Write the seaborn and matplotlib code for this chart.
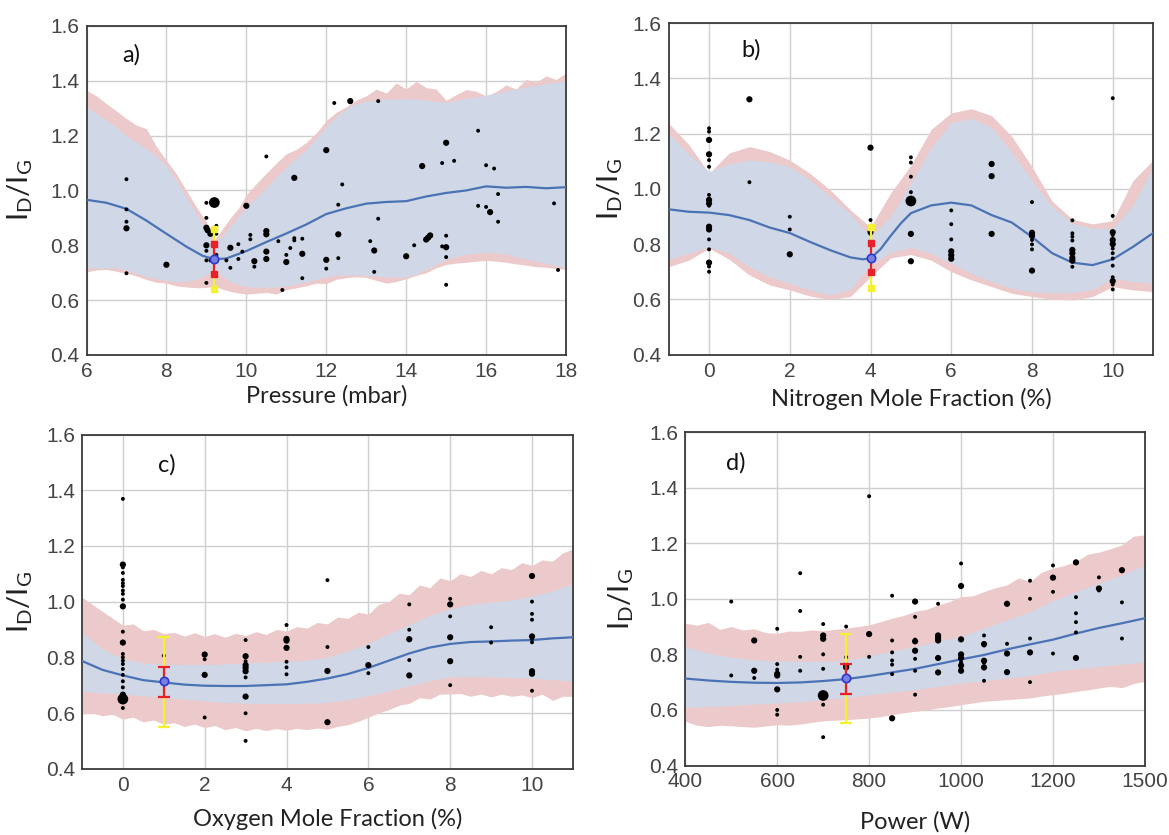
import numpy as np
import pandas as pd
import matplotlib
matplotlib.use("Agg")
import matplotlib.pyplot as plt
import seaborn as sns

# ---------------- Panel a: Pressure ----------------
a_line_x = [6, 6.5, 7, 7.5, 8, 8.5, 8.9, 9.2, 9.5, 10, 10.5, 11, 11.5, 12, 12.5, 13, 13.5, 14, 14.5, 15, 15.5, 16, 16.5, 17, 17.5, 18]
a_line_y = [0.966, 0.955, 0.933, 0.89, 0.842, 0.795, 0.762, 0.749, 0.752, 0.779, 0.812, 0.843, 0.876, 0.914, 0.935, 0.952, 0.958, 0.961, 0.978, 0.991, 1.0, 1.015, 1.01, 1.013, 1.008, 1.012]
a_band_x = [6, 6.25, 6.5, 6.75, 7, 7.25, 7.5, 7.75, 8, 8.25, 8.5, 8.75, 9, 9.2, 9.4, 9.6, 9.8, 10, 10.25, 10.5, 10.75, 11, 11.25, 11.5, 11.75,
            12, 12.25, 12.5, 12.75, 13, 13.25, 13.5, 13.75, 14, 14.25, 14.5, 14.75, 15, 15.25, 15.5, 15.75, 16, 16.25, 16.5, 16.75, 17, 17.25, 17.5, 17.75, 18]
a_pink_hi = [1.365, 1.345, 1.316, 1.29, 1.262, 1.238, 1.225, 1.16, 1.11, 1.06, 1.0, 0.94, 0.885, 0.818, 0.86, 0.9, 0.935, 0.985, 1.025, 1.063, 1.1, 1.134, 1.15, 1.175, 1.21,
             1.255, 1.285, 1.305, 1.33, 1.345, 1.37, 1.355, 1.392, 1.37, 1.398, 1.375, 1.37, 1.328, 1.35, 1.368, 1.362, 1.345, 1.36, 1.385, 1.37, 1.405, 1.395, 1.418, 1.405, 1.428]
a_blue_hi = [1.304, 1.28, 1.255, 1.23, 1.2, 1.175, 1.152, 1.125, 1.09, 1.035, 0.975, 0.915, 0.855, 0.80, 0.835, 0.87, 0.905, 0.94, 0.975, 1.01, 1.05, 1.085, 1.12, 1.15, 1.19,
             1.232, 1.27, 1.3, 1.316, 1.325, 1.331, 1.333, 1.334, 1.335, 1.333, 1.33, 1.325, 1.322, 1.328, 1.336, 1.34, 1.347, 1.355, 1.362, 1.37, 1.377, 1.383, 1.39, 1.395, 1.40]
a_blue_lo = [0.72, 0.716, 0.717, 0.718, 0.71, 0.698, 0.686, 0.678, 0.672, 0.668, 0.668, 0.676, 0.693, 0.712, 0.686, 0.668, 0.657, 0.649, 0.647, 0.647, 0.648, 0.651, 0.658, 0.666, 0.676,
             0.685, 0.69, 0.692, 0.692, 0.69, 0.688, 0.685, 0.684, 0.684, 0.695, 0.712, 0.73, 0.748, 0.76, 0.768, 0.772, 0.774, 0.772, 0.768, 0.758, 0.75, 0.742, 0.735, 0.725, 0.718]
a_pink_lo = [0.703, 0.71, 0.712, 0.705, 0.698, 0.688, 0.675, 0.665, 0.662, 0.652, 0.648, 0.645, 0.646, 0.652, 0.64, 0.632, 0.626, 0.622, 0.625, 0.628, 0.622, 0.638, 0.645, 0.652, 0.662,
             0.66, 0.676, 0.682, 0.685, 0.683, 0.672, 0.662, 0.668, 0.678, 0.69, 0.7, 0.718, 0.73, 0.735, 0.738, 0.742, 0.745, 0.742, 0.738, 0.732, 0.728, 0.722, 0.72, 0.715, 0.712]
a_pts_x = [7, 7, 7, 7, 7, 8, 9.2, 9, 9, 9, 9.03, 9.1, 9.25, 9.25, 9, 9, 9, 9.1, 9.25, 9.25, 9,
           9.6, 9.5, 9.6, 9.8, 9.8, 10, 9.9, 10.1, 10.1, 10.2, 10.2, 10.5, 10.5, 10.5, 10.5, 10.5, 10.8, 11, 11, 11.1, 11.2, 11.2, 11.2, 11.4, 11.4, 11.4, 12, 12, 12, 10.9,
           12.2, 12.6, 13.3, 12.4, 12.3, 12.3, 12.3, 13.1, 13.2, 13.3, 13.2, 14, 14.2, 14.4, 14.5, 14.55, 14.6, 14.9, 15, 15, 14.9, 15, 15, 15, 15.2,
           15.8, 15.8, 16, 16, 16.1, 16.2, 16.3, 16.3, 17.7, 17.8]
a_pts_y = [1.041, 0.931, 0.886, 0.862, 0.698, 0.729, 0.956, 0.955, 0.90, 0.864, 0.855, 0.842, 0.871, 0.842, 0.80, 0.78, 0.745, 0.745, 0.765, 0.742, 0.663,
           0.791, 0.745, 0.718, 0.804, 0.75, 0.944, 0.777, 0.838, 0.822, 0.742, 0.722, 1.124, 0.852, 0.84, 0.777, 0.75, 0.815, 0.765, 0.739, 0.79, 1.046, 0.826, 0.818, 0.824, 0.769, 0.68, 1.147, 0.747, 0.715, 0.637,
           1.319, 1.326, 1.326, 1.022, 0.948, 0.84, 0.753, 0.815, 0.781, 0.897, 0.703, 0.76, 0.80, 1.089, 0.821, 0.828, 0.836, 1.10, 1.174, 0.835, 0.796, 0.793, 0.757, 0.656, 1.108,
           1.218, 0.944, 1.092, 0.94, 0.921, 1.08, 0.987, 0.886, 0.953, 0.71]
a_pts_s = [1, 1, 1, 2, 1, 2, 3, 1, 1, 2, 2, 2, 1, 1, 2, 1, 1, 1, 1, 1, 1,
           2, 1, 1, 1, 1, 2, 1, 1, 1, 2, 1, 1, 2, 2, 2, 2, 1, 1, 2, 1, 2, 1, 1, 1, 2, 1, 2, 2, 1, 1,
           1, 2, 1, 1, 1, 2, 1, 1, 2, 1, 1, 2, 1, 2, 2, 2, 2, 1, 2, 1, 1, 2, 1, 1, 1,
           1, 1, 1, 1, 2, 1, 1, 1, 1, 1]
a_err = dict(x=9.2, c=0.75, r_lo=0.696, r_hi=0.803, y_lo=0.639, y_hi=0.858)

# ---------------- Panel b: Nitrogen ----------------
b_line_x = [-1, -0.5, 0, 0.5, 1, 1.5, 2, 2.5, 3, 3.5, 3.8, 4, 4.25, 4.5, 4.75, 5, 5.5, 6, 6.5, 7, 7.5, 8, 8.5, 9, 9.5, 10, 10.5, 11]
b_line_y = [0.926, 0.917, 0.914, 0.905, 0.887, 0.860, 0.840, 0.808, 0.778, 0.752, 0.745, 0.748, 0.782, 0.830, 0.875, 0.912, 0.940, 0.950, 0.940, 0.905, 0.878, 0.826, 0.767, 0.733, 0.724, 0.745, 0.790, 0.840]
b_band_x = [-1, -0.5, 0, 0.5, 1, 1.5, 2, 2.5, 3, 3.5, 4, 4.5, 5, 5.5, 6, 6.5, 7, 7.5, 8, 8.5, 9, 9.5, 10, 10.5, 11]
b_pink_hi = [1.237, 1.16, 1.056, 1.13, 1.153, 1.135, 1.104, 1.056, 0.996, 0.924, 0.861, 0.985, 1.085, 1.215, 1.275, 1.29, 1.265, 1.19, 1.08, 0.955, 0.89, 0.873, 0.885, 1.03, 1.104]
b_blue_hi = [1.20, 1.125, 1.062, 1.09, 1.104, 1.098, 1.08, 1.032, 0.972, 0.91, 0.827, 0.90, 1.02, 1.15, 1.24, 1.255, 1.222, 1.132, 1.03, 0.935, 0.875, 0.857, 0.857, 0.94, 1.08]
b_blue_lo = [0.745, 0.767, 0.79, 0.767, 0.718, 0.682, 0.658, 0.634, 0.616, 0.636, 0.724, 0.77, 0.788, 0.767, 0.73, 0.694, 0.664, 0.64, 0.628, 0.624, 0.624, 0.636, 0.676, 0.664, 0.658]
b_pink_lo = [0.718, 0.742, 0.785, 0.745, 0.688, 0.652, 0.634, 0.612, 0.60, 0.61, 0.682, 0.75, 0.762, 0.742, 0.70, 0.67, 0.646, 0.622, 0.61, 0.60, 0.598, 0.61, 0.646, 0.634, 0.628]
b_pts_x = [0] * 17 + [1, 1] + [2, 2, 2] + [4, 4, 4, 4] + [5] * 7 + [6] * 6 + [7] * 3 + [8] * 7 + [9] * 9 + [10] * 14
b_pts_y = [1.219, 1.207, 1.177, 1.125, 1.104, 1.08, 0.978, 0.96, 0.947, 0.939, 0.863, 0.853, 0.817, 0.781, 0.733, 0.719, 0.70,
           1.324, 1.024,
           0.899, 0.853, 0.763,
           1.149, 0.887, 0.844, 0.837,
           1.114, 1.095, 1.044, 0.988, 0.956, 0.837, 0.738,
           0.922, 0.872, 0.817, 0.774, 0.76, 0.747,
           1.09, 1.046, 0.837,
           0.952, 0.841, 0.83, 0.815, 0.799, 0.781, 0.704,
           0.886, 0.839, 0.827, 0.813, 0.779, 0.767, 0.75, 0.74, 0.718,
           1.328, 0.902, 0.843, 0.833, 0.815, 0.80, 0.784, 0.767, 0.748, 0.722, 0.68, 0.666, 0.654, 0.636]
b_pts_s = [1, 1, 2, 2, 1, 1, 1, 2, 2, 1, 2, 2, 1, 1, 2, 1, 1,
           2, 1,
           1, 1, 2,
           2, 1, 2, 1,
           1, 1, 1, 1, 3, 2, 2,
           1, 1, 1, 2, 2, 2,
           2, 2, 2,
           1, 2, 2, 1, 1, 1, 2,
           1, 1, 1, 1, 2, 2, 2, 2, 1,
           1, 1, 2, 1, 2, 2, 1, 1, 1, 1, 1, 2, 1, 1]
b_err = dict(x=4, c=0.75, r_lo=0.698, r_hi=0.805, y_lo=0.64, y_hi=0.861)

# ---------------- Panel c: Oxygen ----------------
c_line_x = [-1, -0.5, 0, 0.5, 1, 1.5, 2, 2.5, 3, 3.5, 4, 4.5, 5, 5.5, 6, 6.5, 7, 7.5, 8, 8.5, 9, 9.5, 10, 10.5, 11]
c_line_y = [0.787, 0.755, 0.735, 0.718, 0.71, 0.702, 0.698, 0.697, 0.697, 0.70, 0.703, 0.712, 0.724, 0.74, 0.762, 0.788, 0.814, 0.835, 0.848, 0.855, 0.857, 0.86, 0.862, 0.868, 0.872]
c_band_x = c_line_x
c_blue_hi = [0.89, 0.83, 0.795, 0.78, 0.775, 0.774, 0.774, 0.776, 0.78, 0.783, 0.786, 0.79, 0.80, 0.822, 0.85, 0.885, 0.918, 0.95, 0.975, 0.99, 0.998, 1.005, 1.02, 1.038, 1.065]
c_blue_lo = [0.678, 0.672, 0.668, 0.662, 0.656, 0.65, 0.644, 0.638, 0.635, 0.634, 0.634, 0.635, 0.638, 0.648, 0.662, 0.68, 0.698, 0.716, 0.73, 0.731, 0.73, 0.728, 0.725, 0.72, 0.714]
c_pink_x = [-1, -0.75, -0.5, -0.25, 0, 0.25, 0.5, 0.75, 1, 1.25, 1.5, 1.75, 2, 2.25, 2.5, 2.75, 3, 3.25, 3.5, 3.75, 4, 4.25, 4.5, 4.75, 5,
            5.25, 5.5, 5.75, 6, 6.25, 6.5, 6.75, 7, 7.25, 7.5, 7.75, 8, 8.25, 8.5, 8.75, 9, 9.25, 9.5, 9.75, 10, 10.25, 10.5, 10.75, 11]
c_pink_hi = [1.016, 0.99, 0.965, 0.94, 0.915, 0.92, 0.895, 0.9, 0.885, 0.89, 0.876, 0.888, 0.875, 0.885, 0.872, 0.886, 0.878, 0.892, 0.882, 0.9, 0.894, 0.91, 0.905, 0.925, 0.92,
             0.945, 0.94, 0.962, 0.955, 0.99, 1.0, 1.03, 1.025, 1.06, 1.05, 1.085, 1.075, 1.1, 1.09, 1.112, 1.1, 1.122, 1.115, 1.14, 1.13, 1.15, 1.145, 1.175, 1.19]
c_pink_lo = [0.596, 0.6, 0.59, 0.595, 0.578, 0.585, 0.568, 0.575, 0.56, 0.565, 0.552, 0.56, 0.548, 0.555, 0.54, 0.548, 0.536, 0.545, 0.537, 0.544, 0.538, 0.545, 0.54, 0.546, 0.542,
             0.552, 0.558, 0.57, 0.585, 0.6, 0.612, 0.628, 0.635, 0.655, 0.65, 0.668, 0.668, 0.67, 0.66, 0.668, 0.658, 0.668, 0.66, 0.665, 0.655, 0.668, 0.645, 0.66, 0.66]
c_pts_x = [0] * 24 + [1] + [2] * 4 + [3] * 10 + [4] * 7 + [5] * 4 + [6] * 3 + [7] * 5 + [8] * 6 + [9] * 2 + [10] * 10
c_pts_y = [1.369, 1.133, 1.123, 1.103, 1.078, 1.066, 1.056, 1.04, 1.028, 1.007, 0.983, 0.892, 0.853, 0.812, 0.80, 0.788, 0.776, 0.758, 0.737, 0.714, 0.692, 0.666, 0.65, 0.618,
           0.806,
           0.81, 0.793, 0.737, 0.584,
           0.862, 0.804, 0.786, 0.772, 0.762, 0.75, 0.728, 0.659, 0.599, 0.50,
           0.916, 0.866, 0.86, 0.834, 0.784, 0.764, 0.739,
           1.077, 0.837, 0.751, 0.567,
           0.837, 0.772, 0.743,
           0.99, 0.899, 0.865, 0.79, 0.735,
           1.01, 0.99, 0.947, 0.872, 0.786, 0.70,
           0.908, 0.853,
           1.092, 1.0, 0.956, 0.935, 0.875, 0.866, 0.854, 0.75, 0.741, 0.68]
c_pts_s = [1, 2, 1, 1, 1, 1, 1, 1, 1, 1, 2, 1, 2, 1, 1, 1, 1, 1, 1, 1, 1, 2, 3, 1,
           1,
           2, 1, 2, 1,
           1, 2, 1, 2, 2, 2, 1, 2, 1, 1,
           1, 2, 2, 2, 1, 1, 1,
           1, 1, 2, 2,
           1, 2, 1,
           1, 1, 2, 1, 2,
           1, 2, 1, 2, 2, 1,
           1, 1,
           2, 1, 1, 1, 2, 1, 1, 2, 2, 1]
c_err = dict(x=1, c=0.714, r_lo=0.656, r_hi=0.766, y_lo=0.551, y_hi=0.872)

# ---------------- Panel d: Power ----------------
d_band_x = [400, 450, 500, 550, 600, 650, 700, 750, 800, 850, 900, 950, 1000, 1050, 1100, 1150, 1200, 1250, 1300, 1350, 1400]
d_line_y = [0.713, 0.706, 0.701, 0.698, 0.697, 0.699, 0.704, 0.711, 0.722, 0.735, 0.748, 0.765, 0.782, 0.798, 0.818, 0.836, 0.853, 0.875, 0.895, 0.912, 0.93]
d_blue_hi = [0.828, 0.805, 0.79, 0.78, 0.776, 0.775, 0.775, 0.779, 0.794, 0.812, 0.828, 0.847, 0.865, 0.894, 0.924, 0.954, 0.993, 1.026, 1.056, 1.086, 1.122]
d_blue_lo = [0.609, 0.612, 0.616, 0.621, 0.625, 0.63, 0.637, 0.645, 0.655, 0.664, 0.673, 0.685, 0.697, 0.705, 0.715, 0.724, 0.739, 0.748, 0.757, 0.765, 0.772]
d_pink_x = [400, 425, 450, 475, 500, 525, 550, 575, 600, 625, 650, 675, 700, 725, 750, 775, 800, 825, 850, 875, 900,
            925, 950, 975, 1000, 1025, 1050, 1075, 1100, 1125, 1150, 1175, 1200, 1225, 1250, 1275, 1300, 1325, 1350, 1375, 1400]
d_pink_hi = [0.912, 0.905, 0.915, 0.89, 0.9, 0.888, 0.892, 0.878, 0.876, 0.884, 0.883, 0.888, 0.885, 0.89, 0.894, 0.9, 0.906, 0.918, 0.93, 0.94, 0.955,
             0.962, 0.978, 0.99, 1.008, 1.01, 1.026, 1.04, 1.05, 1.075, 1.062, 1.095, 1.11, 1.12, 1.134, 1.16, 1.168, 1.18, 1.194, 1.225, 1.23]
d_pink_lo = [0.559, 0.545, 0.54, 0.545, 0.543, 0.54, 0.538, 0.542, 0.547, 0.545, 0.549, 0.555, 0.561, 0.563, 0.565, 0.568, 0.571, 0.576, 0.583, 0.59, 0.595,
             0.6, 0.607, 0.612, 0.619, 0.625, 0.631, 0.634, 0.637, 0.64, 0.643, 0.65, 0.655, 0.66, 0.667, 0.672, 0.679, 0.685, 0.68, 0.695, 0.703]
d_pts_x = [500] * 2 + [550] * 3 + [600] * 8 + [650] * 4 + [700] * 8 + [750] * 4 + [800] * 3 + [850] * 7 + [900] * 8 + [950] * 6 + \
          [1000] * 9 + [1050] * 7 + [1100] * 4 + [1150] * 5 + [1200] * 4 + [1250] * 6 + [1300] * 3 + [1350] * 3
d_pts_y = [0.99, 0.724,
           0.85, 0.741, 0.715,
           0.892, 0.765, 0.745, 0.73, 0.724, 0.674, 0.60, 0.583,
           1.092, 0.956, 0.791, 0.741,
           0.909, 0.868, 0.856, 0.80, 0.748, 0.652, 0.619, 0.502,
           0.90, 0.79, 0.76, 0.753,
           1.369, 0.873, 0.791,
           1.011, 0.85, 0.807, 0.778, 0.763, 0.729, 0.57,
           0.99, 0.935, 0.853, 0.847, 0.813, 0.784, 0.741, 0.655,
           0.982, 0.868, 0.859, 0.85, 0.787, 0.735,
           1.127, 1.046, 0.854, 0.80, 0.787, 0.772, 0.76, 0.75, 0.741,
           0.868, 0.837, 0.832, 0.777, 0.769, 0.753, 0.705,
           0.982, 0.838, 0.803, 0.736,
           1.065, 1.0, 0.857, 0.807, 0.70,
           1.12, 1.076, 1.025, 0.803,
           1.131, 1.006, 0.948, 0.916, 0.879, 0.787,
           1.077, 1.037, 1.03,
           1.103, 0.987, 0.857]
d_pts_s = [1, 1,
           2, 2, 1,
           1, 1, 1, 2, 2, 2, 1, 1,
           1, 1, 1, 1,
           1, 2, 2, 1, 1, 3, 1, 1,
           1, 1, 2, 2,
           1, 2, 1,
           1, 1, 1, 1, 1, 1, 2,
           2, 1, 1, 2, 2, 1, 1, 1,
           1, 2, 2, 2, 2, 2,
           1, 2, 2, 2, 2, 1, 2, 1, 2,
           1, 2, 1, 2, 1, 2, 1,
           2, 1, 2, 2,
           1, 1, 1, 2, 1,
           1, 2, 1, 1,
           2, 1, 1, 1, 1, 2,
           1, 2, 1,
           2, 1, 1]
d_err = dict(x=750, c=0.715, r_lo=0.658, r_hi=0.766, y_lo=0.554, y_hi=0.873)
d_xticks = [400, 600, 800, 1000, 1200, 1400]
d_xticklabels = ["400", "600", "800", "1000", "1200", "1500"]

y_ticks = [0.4, 0.6, 0.8, 1.0, 1.2, 1.4, 1.6]
panel_letters = ["a)", "b)", "c)", "d)"]
x_titles = ["Pressure (mbar)", "Nitrogen Mole Fraction (%)", "Oxygen Mole Fraction (%)", "Power (W)"]

# ---------------- style ----------------
sns.set_theme(style="whitegrid")
plt.rcParams["font.family"] = ["Liberation Sans Narrow", "Liberation Sans", "DejaVu Sans"]
plt.rcParams["mathtext.fontset"] = "custom"
plt.rcParams["mathtext.rm"] = "Lato"

PINK = "#ecc9ca"
BLUE_BAND = "#cfd9e9"
LINE = "#4a72b5"
LABEL_FONT = ["Lato", "DejaVu Sans"]

fig = plt.figure(figsize=(11.69, 8.35), dpi=100)
positions = [
    [0.074, 0.5749, 0.4102, 0.394],
    [0.572, 0.5753, 0.4144, 0.3971],
    [0.0701, 0.0794, 0.42, 0.4002],
    [0.5862, 0.0832, 0.3932, 0.3994],
]

panels = [
    dict(line_x=a_line_x, line_y=a_line_y, band_x=a_band_x, blue_hi=a_blue_hi, blue_lo=a_blue_lo,
         pink_x=a_band_x, pink_hi=a_pink_hi, pink_lo=a_pink_lo, px=a_pts_x, py=a_pts_y, ps=a_pts_s,
         err=a_err, caps=False, xlim=(6, 18), xticks=[6, 8, 10, 12, 14, 16, 18], xtl=None,
         letter=(0.093, 0.912), xlab_y=-0.125, ylab_x=-0.139),
    dict(line_x=b_line_x, line_y=b_line_y, band_x=b_band_x, blue_hi=b_blue_hi, blue_lo=b_blue_lo,
         pink_x=b_band_x, pink_hi=b_pink_hi, pink_lo=b_pink_lo, px=b_pts_x, py=b_pts_y, ps=b_pts_s,
         err=b_err, caps=False, xlim=(-1, 11), xticks=[0, 2, 4, 6, 8, 10], xtl=None,
         letter=(0.17, 0.92), xlab_y=-0.134, ylab_x=-0.121),
    dict(line_x=c_line_x, line_y=c_line_y, band_x=c_band_x, blue_hi=c_blue_hi, blue_lo=c_blue_lo,
         pink_x=c_pink_x, pink_hi=c_pink_hi, pink_lo=c_pink_lo, px=c_pts_x, py=c_pts_y, ps=c_pts_s,
         err=c_err, caps=True, xlim=(-1, 11), xticks=[0, 2, 4, 6, 8, 10], xtl=None,
         letter=(0.173, 0.909), xlab_y=-0.15, ylab_x=-0.126),
    dict(line_x=d_band_x, line_y=d_line_y, band_x=d_band_x, blue_hi=d_blue_hi, blue_lo=d_blue_lo,
         pink_x=d_pink_x, pink_hi=d_pink_hi, pink_lo=d_pink_lo, px=d_pts_x, py=d_pts_y, ps=d_pts_s,
         err=d_err, caps=True, xlim=(400, 1400), xticks=d_xticks, xtl=d_xticklabels,
         letter=(0.11, 0.907), xlab_y=-0.17, ylab_x=-0.139),
]

for i, (pos, p) in enumerate(zip(positions, panels)):
    ax = fig.add_axes(pos)
    ax.set_facecolor("white")
    ax.fill_between(p["pink_x"], p["pink_lo"], p["pink_hi"], color=PINK, lw=0, zorder=1)
    ax.fill_between(p["band_x"], p["blue_lo"], p["blue_hi"], color=BLUE_BAND, lw=0, alpha=0.95, zorder=2)
    sns.lineplot(x=p["line_x"], y=p["line_y"], color=LINE, lw=1.6, ax=ax, zorder=3)
    df = pd.DataFrame({"x": p["px"], "y": p["py"], "s": p["ps"]})
    sns.scatterplot(data=df, x="x", y="y", size="s", sizes={1: 8, 2: 20, 3: 60},
                    color="black", edgecolor="none", legend=False, ax=ax, zorder=4)
    e = p["err"]
    if p["caps"]:
        ax.errorbar([e["x"]], [e["c"]], yerr=[[e["c"] - e["y_lo"]], [e["y_hi"] - e["c"]]],
                    fmt="none", ecolor="#f5f032", elinewidth=1.6, capsize=4, capthick=1.6, zorder=5)
        ax.errorbar([e["x"]], [e["c"]], yerr=[[e["c"] - e["r_lo"]], [e["r_hi"] - e["c"]]],
                    fmt="none", ecolor="#e8202a", elinewidth=1.6, capsize=4, capthick=1.6, zorder=6)
    else:
        ax.plot([e["x"], e["x"]], [e["y_lo"], e["y_hi"]], color="#f5f032", lw=1.6,
                marker="s", ms=5, mec="#f5f032", zorder=5)
        ax.plot([e["x"], e["x"]], [e["r_lo"], e["r_hi"]], color="#e8202a", lw=1.6,
                marker="s", ms=5, mec="#e8202a", zorder=6)
    ax.plot([e["x"]], [e["c"]], marker="o", ms=6, mfc="#7b7fe0", mec="#2a3ad0", mew=1.2, zorder=7)

    ax.set_xlim(*p["xlim"])
    ax.set_ylim(0.4, 1.6)
    ax.set_xticks(p["xticks"])
    if p["xtl"] is not None:
        ax.set_xticklabels(p["xtl"])
    ax.set_yticks(y_ticks)
    ax.set_yticklabels([f"{v:.1f}" for v in y_ticks])
    ax.grid(True, color="#cfcfcf", lw=1.0)
    ax.set_axisbelow(True)
    for sp in ax.spines.values():
        sp.set_visible(True)
        sp.set_color("#3a3a3a")
        sp.set_linewidth(1.3)
    ax.tick_params(axis="both", length=0, labelsize=15, labelcolor="#444444", pad=5)

    ax.set_xlabel(x_titles[i], fontsize=17, family=LABEL_FONT, color="#222222")
    ax.xaxis.set_label_coords(0.5, p["xlab_y"])
    ax.xaxis.label.set_va("center")
    ax.set_ylabel(r"$\mathregular{I_D/I_G}$", fontsize=21, family=LABEL_FONT, color="#222222")
    ax.yaxis.set_label_coords(p["ylab_x"], 0.5)
    ax.yaxis.label.set_va("center")
    ax.text(p["letter"][0], p["letter"][1], panel_letters[i], transform=ax.transAxes,
            fontsize=17, family=LABEL_FONT, color="#111111", ha="center", va="center")

fig.savefig("out.png", dpi=100)
